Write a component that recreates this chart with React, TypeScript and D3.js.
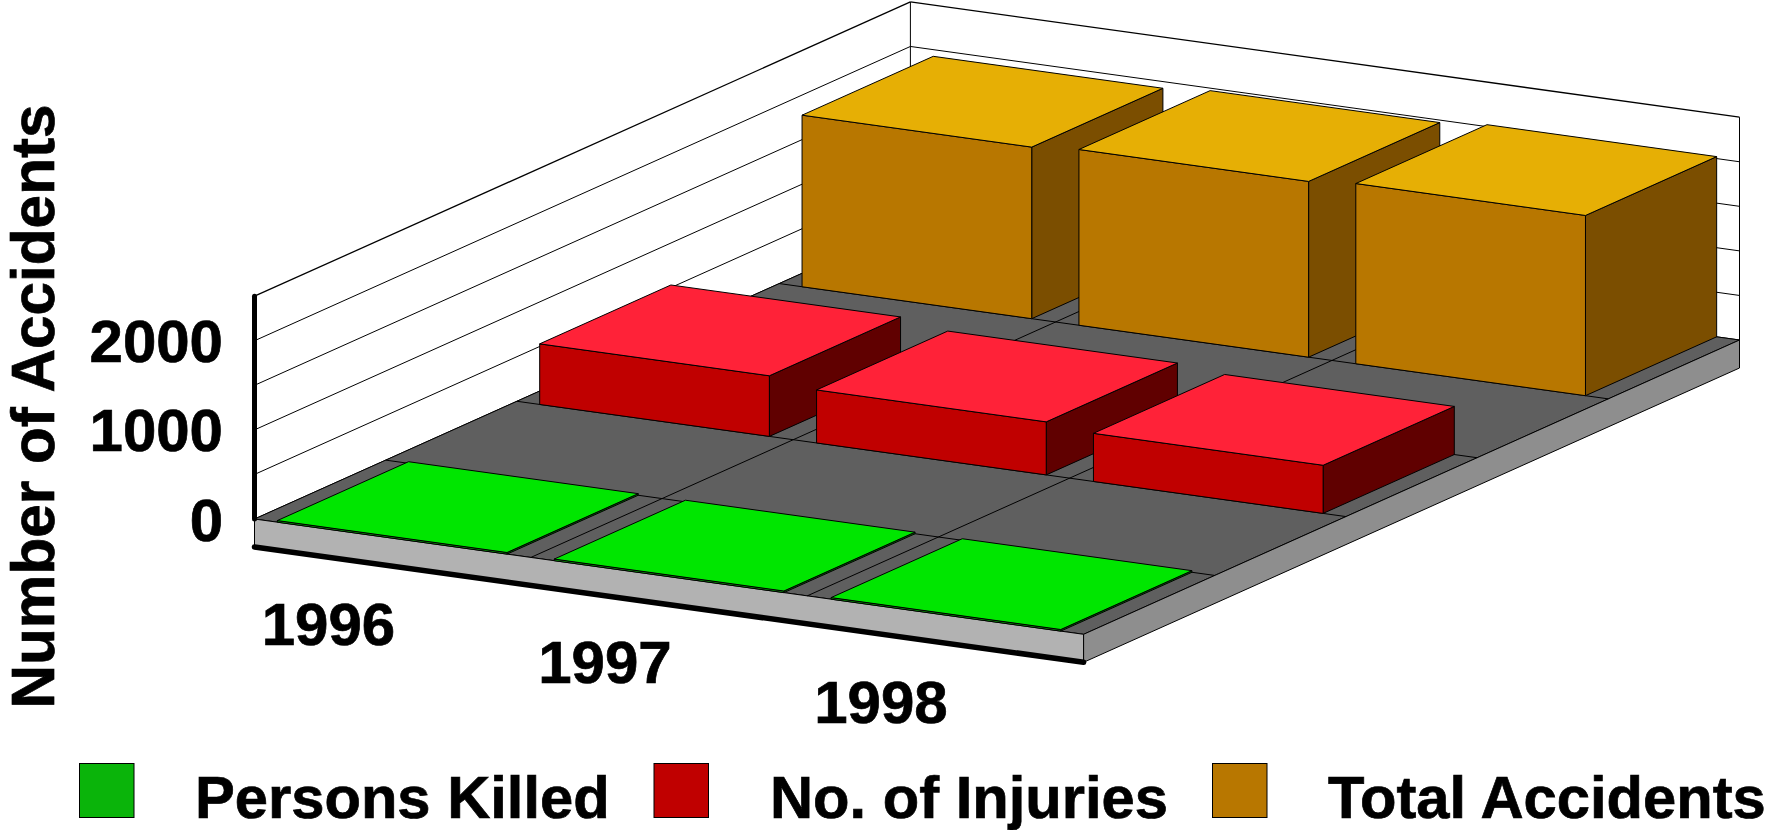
import React from "react";
import * as d3 from "d3";

const years = ["1996", "1997", "1998"];
const personsKilled = [18, 18, 18];
const injuries = [680, 595, 540];
const totalAccidents = [1925, 1972, 2022];
const yTicks = [0, 500, 1000, 1500, 2000, 2500];
const yLabels = [0, 1000, 2000];
const depthLines = [0.2, 0.4, 0.6, 0.8];

const seriesList = [
  { name: "Total Accidents", values: totalAccidents, depth: 0.8, top: "#e6af05", front: "#b87700", side: "#7b4e00" },
  { name: "No. of Injuries", values: injuries, depth: 0.4, top: "#ff2238", front: "#c00000", side: "#600000" },
  { name: "Persons Killed", values: personsKilled, depth: 0, top: "#00e600", front: "#0ab40a", side: "#057005" },
];

const legendItems = [
  { name: "Persons Killed", color: "#0ab40a", sx: 79.5, tx: 195 },
  { name: "No. of Injuries", color: "#c00000", sx: 654, tx: 770 },
  { name: "Total Accidents", color: "#b87700", sx: 1212.5, tx: 1328 },
];
const yearLabelPos = [
  { cx: 328.5, y: 645 },
  { cx: 605, y: 683 },
  { cx: 881, y: 722.5 },
];

// oblique projection
const O = [254.5, 519];
const ex = [829.1, 115.3]; // along categories
const ez = [655.9, -294.3]; // along depth
const hScale = d3.scaleLinear().domain([0, 2500]).range([0, 222.8]);
const catBand = d3.scaleBand<number>().domain([0, 1, 2]).range([0, 1]).paddingInner(0.1705).paddingOuter(0.0825);
const floorT = 28;

const P = (t: number, d: number, v = 0): [number, number] => [
  O[0] + t * ex[0] + d * ez[0],
  O[1] + t * ex[1] + d * ez[1] - hScale(v),
];
const poly = (pts: [number, number][]) => pts.map((p) => p.join(",")).join(" ");
const seg = (a: [number, number], b: [number, number]) => ({ x1: a[0], y1: a[1], x2: b[0], y2: b[1] });
const shift = (p: [number, number], dy: number): [number, number] => [p[0], p[1] + dy];

const FONT = "'Liberation Sans', Arial, sans-serif";
const K = "#000";
const heavy = { stroke: K, strokeWidth: 0.7 };

export default function App() {
  const bw = catBand.bandwidth();
  const bars = seriesList.flatMap((s) =>
    s.values.map((v, i) => {
      const t0 = catBand(i) as number;
      const t1 = t0 + bw;
      const d0 = s.depth;
      const d1 = s.depth + 0.2;
      return (
        <g key={s.name + i} stroke={K} strokeWidth={1} strokeLinejoin="round">
          <polygon points={poly([P(t1, d0, 0), P(t1, d1, 0), P(t1, d1, v), P(t1, d0, v)])} fill={s.side} />
          <polygon points={poly([P(t0, d0, 0), P(t1, d0, 0), P(t1, d0, v), P(t0, d0, v)])} fill={s.front} />
          <polygon points={poly([P(t0, d0, v), P(t1, d0, v), P(t1, d1, v), P(t0, d1, v)])} fill={s.top} />
        </g>
      );
    })
  );
  return (
    <svg
      width={1775}
      height={830}
      style={{ position: "absolute", left: 0, top: 0, display: "block", background: "#fff" }}
      fontFamily={FONT}
      fontWeight="bold"
    >
      {/* walls */}
      {yTicks.map((v) => (
        <g key={v} stroke={K} strokeWidth={v === 2500 ? 1.3 : 1} fill="none">
          <line {...seg(P(0, 0, v), P(0, 1, v))} />
          <line {...seg(P(0, 1, v), P(1, 1, v))} />
        </g>
      ))}
      <line {...seg(P(0, 1, 0), P(0, 1, 2500))} stroke={K} strokeWidth={1} />
      <line {...seg(P(1, 1, 0), P(1, 1, 2500))} stroke={K} strokeWidth={1} />
      {/* floor */}
      <polygon points={poly([P(0, 0), P(1, 0), P(1, 1), P(0, 1)])} fill="#5f5f5f" stroke={K} strokeWidth={1} />
      <polygon
        points={poly([P(0, 0), P(1, 0), shift(P(1, 0), floorT), shift(P(0, 0), floorT)])}
        fill="#b2b2b2"
        stroke={K}
        strokeWidth={1}
      />
      <polygon
        points={poly([P(1, 0), P(1, 1), shift(P(1, 1), floorT), shift(P(1, 0), floorT)])}
        fill="#8e8e8e"
        stroke={K}
        strokeWidth={1}
      />
      {depthLines.map((d) => (
        <line key={d} {...seg(P(0, d), P(1, d))} stroke={K} strokeWidth={1} />
      ))}
      {[1 / 3, 2 / 3].map((t) => (
        <line key={t} {...seg(P(t, 0), P(t, 1))} stroke={K} strokeWidth={1} />
      ))}
      {bars}
      {/* axes */}
      <line {...seg(P(0, 0, 0), P(0, 0, 2500))} stroke={K} strokeWidth={5} strokeLinecap="round" />
      <line {...seg(shift(P(0, 0), floorT), shift(P(1, 0), floorT))} stroke={K} strokeWidth={5.5} strokeLinecap="round" />
      {/* labels */}
      {yLabels.map((v) => (
        <text key={v} x={223} y={O[1] - hScale(v) + 21.5} textAnchor="end" fontSize={60} fill={K} {...heavy}>
          {v}
        </text>
      ))}
      {years.map((y, i) => (
        <text key={y} x={yearLabelPos[i].cx} y={yearLabelPos[i].y} textAnchor="middle" fontSize={60} fill={K} {...heavy}>
          {y}
        </text>
      ))}
      <text transform="translate(54,406.5) rotate(-90)" textAnchor="middle" fontSize={60.3} fill={K} {...heavy}>
        Number of Accidents
      </text>
      {legendItems.map((l) => (
        <g key={l.name}>
          <rect x={l.sx} y={763.5} width={54.5} height={54} fill={l.color} stroke={K} strokeWidth={1} />
          <text x={l.tx} y={818} fontSize={59.7} fill={K} {...heavy}>
            {l.name}
          </text>
        </g>
      ))}
    </svg>
  );
}
